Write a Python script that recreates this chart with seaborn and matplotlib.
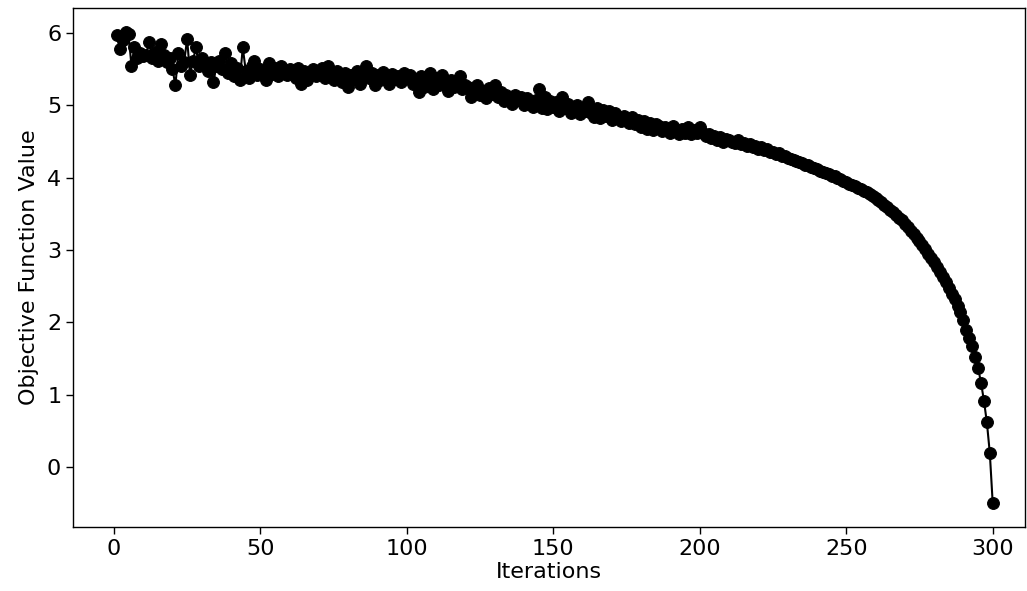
import matplotlib
matplotlib.use("Agg")
import matplotlib.pyplot as plt
import seaborn as sns
import pandas as pd

iterations = list(range(1, 301))
objective = [
    5.97, 5.78, 5.90, 6.02, 5.98, 5.55, 5.80, 5.65, 5.72, 5.68,
    5.70, 5.88, 5.66, 5.74, 5.62, 5.85, 5.70, 5.60, 5.66, 5.50,
    5.28, 5.72, 5.55, 5.60, 5.92, 5.42, 5.62, 5.80, 5.55, 5.65,
    5.58, 5.48, 5.60, 5.32, 5.55, 5.62, 5.50, 5.72, 5.45, 5.58,
    5.40, 5.52, 5.35, 5.80, 5.48, 5.38, 5.55, 5.62, 5.42, 5.50,
    5.45, 5.35, 5.58, 5.44, 5.52, 5.40, 5.55, 5.48, 5.42, 5.50,
    5.45, 5.38, 5.52, 5.30, 5.48, 5.35, 5.44, 5.50, 5.40, 5.46,
    5.52, 5.38, 5.55, 5.42, 5.35, 5.48, 5.40, 5.32, 5.45, 5.25,
    5.42, 5.36, 5.48, 5.30, 5.40, 5.55, 5.38, 5.45, 5.28, 5.42,
    5.35, 5.46, 5.38, 5.30, 5.44, 5.36, 5.40, 5.32, 5.45, 5.38,
    5.42, 5.30, 5.36, 5.18, 5.40, 5.25, 5.32, 5.45, 5.22, 5.38,
    5.28, 5.42, 5.30, 5.20, 5.35, 5.26, 5.32, 5.40, 5.22, 5.28,
    5.25, 5.12, 5.22, 5.28, 5.14, 5.20, 5.10, 5.24, 5.16, 5.28,
    5.12, 5.18, 5.06, 5.15, 5.10, 5.02, 5.14, 5.08, 5.12, 5.00,
    5.10, 5.04, 4.98, 5.08, 5.22, 4.96, 5.12, 4.95, 5.06, 4.98,
    5.04, 4.92, 5.12, 4.96, 5.02, 4.90, 4.98, 5.00, 4.88, 4.96,
    4.92, 5.05, 4.90, 4.84, 4.96, 4.82, 4.94, 4.86, 4.92, 4.80,
    4.90, 4.84, 4.78, 4.86, 4.80, 4.76, 4.84, 4.74, 4.80, 4.70,
    4.78, 4.68, 4.76, 4.66, 4.74, 4.72, 4.64, 4.70, 4.66, 4.62,
    4.72, 4.64, 4.60, 4.68, 4.62, 4.70, 4.60, 4.66, 4.62, 4.70,
    4.62, 4.58, 4.60, 4.55, 4.58, 4.52, 4.56, 4.50, 4.54, 4.52,
    4.50, 4.48, 4.52, 4.46, 4.48, 4.44, 4.46, 4.42, 4.44, 4.40,
    4.42, 4.38, 4.40, 4.36, 4.36, 4.33, 4.34, 4.30, 4.30, 4.27,
    4.26, 4.24, 4.23, 4.22, 4.20, 4.18, 4.18, 4.15, 4.13, 4.12,
    4.10, 4.08, 4.07, 4.05, 4.03, 4.02, 4.00, 3.98, 3.96, 3.94,
    3.92, 3.90, 3.88, 3.86, 3.84, 3.82, 3.80, 3.77, 3.75, 3.72,
    3.69, 3.66, 3.63, 3.60, 3.56, 3.53, 3.49, 3.45, 3.41, 3.36,
    3.32, 3.27, 3.22, 3.17, 3.12, 3.07, 3.01, 2.95, 2.89, 2.83,
    2.77, 2.70, 2.63, 2.56, 2.48, 2.40, 2.32, 2.23, 2.14, 2.04,
    1.90, 1.79, 1.67, 1.52, 1.37, 1.17, 0.92, 0.62, 0.20, -0.50,
]
x_label = "Iterations"
y_label = "Objective Function Value"

df = pd.DataFrame({"Iterations": iterations, "Objective": objective})

sns.set_style("ticks")
plt.rcParams["font.family"] = ["DejaVu Sans"]
plt.rcParams["text.color"] = "black"
plt.rcParams["axes.labelcolor"] = "black"
plt.rcParams["xtick.color"] = "black"
plt.rcParams["ytick.color"] = "black"

fig = plt.figure(figsize=(10.27, 5.91), dpi=100)
ax = fig.add_axes([0.0711, 0.1083, 0.9269, 0.8782])

sns.lineplot(data=df, x="Iterations", y="Objective", ax=ax, color="black",
             marker="o", markersize=8.5, markeredgecolor="black",
             linewidth=1.5, estimator=None)

ax.set_xlim(-13.95, 311)
ax.set_ylim(-0.826, 6.346)
ax.set_xticks([0, 50, 100, 150, 200, 250, 300])
ax.set_yticks([0, 1, 2, 3, 4, 5, 6])
ax.tick_params(labelsize=16, length=5, width=1, color="black", labelcolor="black")
ax.set_xlabel(x_label, fontsize=16, color="black", labelpad=2)
ax.set_ylabel(y_label, fontsize=16, color="black", labelpad=6)
for s in ax.spines.values():
    s.set_visible(True)
    s.set_color("black")
    s.set_linewidth(1)

fig.savefig("out.png", dpi=100)
